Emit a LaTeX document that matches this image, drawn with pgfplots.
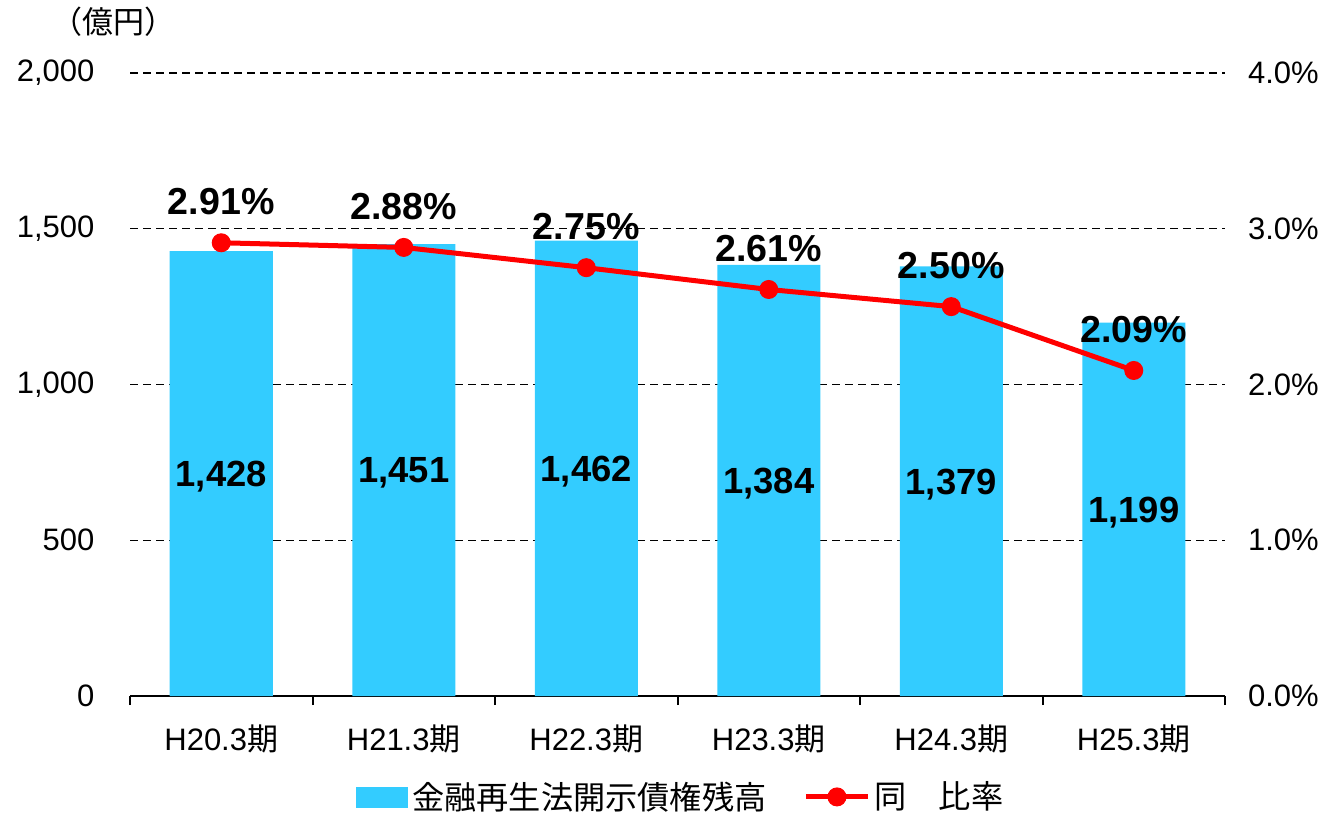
\documentclass[border=0pt]{standalone}
\usepackage{fontspec}
\setmainfont{Liberation Sans}
\newfontfamily\jp{Noto Sans CJK JP}
\usepackage{pgfplots}
\usepackage{pgfplotstable}
\pgfplotsset{compat=1.18}
\definecolor{barblue}{HTML}{33CCFF}
\definecolor{linered}{HTML}{FF0000}
\pgfplotsset{
  barlegend/.style={legend image code/.code={\fill[barblue] (0pt,-5pt) rectangle (25.5pt,5pt);}},
  linelegend/.style={legend image code/.code={\draw[mark repeat=2,mark phase=2,##1] plot coordinates {(0pt,0pt) (15.5pt,0pt) (31pt,0pt)};}},
}
\pgfplotstableread{
x y label
0 1428 1,428
1 1451 1,451
2 1462 1,462
3 1384 1,384
4 1379 1,379
5 1199 1,199
}\bardata
\pgfplotstableread{
x y
0 2.91
1 2.88
2 2.75
3 2.61
4 2.50
5 2.09
}\linedata
\begin{document}
\begin{tikzpicture}
\useasboundingbox (-65pt,-58.5pt) rectangle (601pt,348pt);
\begin{axis}[
  at={(0,0)}, anchor=south west,
  scale only axis, width=547.5pt, height=311.5pt,
  xmin=-0.5, xmax=5.5, ymin=0, ymax=2000,
  axis x line*=bottom, axis y line*=left,
  y axis line style={draw=none},
  x axis line style={black, line width=1pt, -},
  xtick={0,...,5},
  xticklabels={H20.3{\jp 期},H21.3{\jp 期},H22.3{\jp 期},H23.3{\jp 期},H24.3{\jp 期},H25.3{\jp 期}},
  minor xtick={-0.5,0.5,...,5.5},
  major x tick style={draw=none},
  minor x tick style={black, line width=1pt},
  minor tick length=4.5pt,
  tick align=outside,
  ytick={0,500,1000,1500,2000},
  yticklabels={0,500,{1,000},{1,500},{2,000}},
  major y tick style={draw=none},
  ymajorgrids,
  grid style={black, dash pattern=on 4pt off 2.5pt, line width=0.6pt},
  tick label style={font=\fontsize{15.5}{18}\selectfont},
  xticklabel style={yshift=-6.5pt},
  yticklabel style={xshift=-10pt},
  clip=false,
]
\addplot[ybar, bar width=51.5pt, fill=barblue, draw=none,
  nodes near coords, point meta=explicit symbolic,
  visualization depends on={rawy \as \rawy},
  nodes near coords style={anchor=center, black,
    font=\fontsize{18.2}{20}\selectfont\bfseries,
    yshift={-0.077875*\rawy*1pt-1.5pt}}]
  table[x=x, y=y, meta=label]{\bardata};
\node[font=\jp\fontsize{15.5}{18}\selectfont] at (rel axis cs:-0.0155,1.0819) {（億円）};
\end{axis}
\begin{axis}[
  at={(0,0)}, anchor=south west,
  scale only axis, width=547.5pt, height=311.5pt,
  xmin=-0.5, xmax=5.5, ymin=0, ymax=4,
  axis y line*=right, axis x line=none,
  y axis line style={draw=none},
  ytick={0,1,2,3,4},
  yticklabels={0.0\%,1.0\%,2.0\%,3.0\%,4.0\%},
  major y tick style={draw=none},
  tick label style={font=\fontsize{15.5}{18}\selectfont},
  yticklabel style={xshift=8pt},
  clip=false,
  legend columns=2,
  legend cell align=left,
  legend style={at={(0.504,-0.162)}, anchor=center, draw=none, fill=none,
    font=\jp\fontsize{16.1}{18}\selectfont,
    /tikz/every even column/.append style={column sep=16.5pt},
    /tikz/every odd column/.append style={column sep=0pt}},
]
\addlegendimage{barlegend}
\addlegendentry{金融再生法開示債権残高}
\addplot[linered, line width=2.5pt, mark=*, mark size=4.5pt,
  mark options={solid, fill=linered, line width=0.5pt},
  linelegend,
  nodes near coords={\pgfplotspointmeta\%}, point meta=explicit symbolic,
  nodes near coords style={anchor=center, black, yshift=20.5pt,
    font=\fontsize{18.8}{20}\selectfont\bfseries}]
  table[x=x, y=y, meta=y]{\linedata};
\addlegendentry{同　比率}
\end{axis}
\end{tikzpicture}
\end{document}
